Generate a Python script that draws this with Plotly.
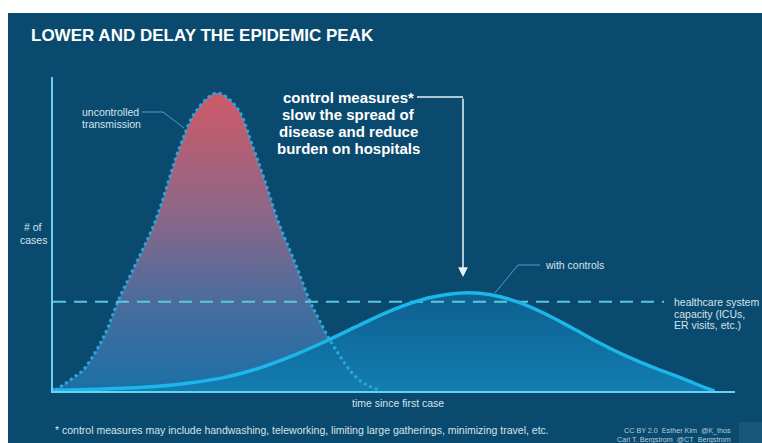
import plotly.graph_objects as go

# ---------------- data ----------------
title_text = "LOWER AND DELAY THE EPIDEMIC PEAK"

time_uncontrolled = [0.3, 1.5, 3, 4.4, 6.4, 8, 9.5, 12, 15, 18.6, 21, 24, 27, 29.3, 31, 33,
                     35.5, 37.7, 39, 40.5, 42, 43.5, 45, 46.5, 48]
cases_uncontrolled = [0.3, 2, 4.5, 7, 13.8, 21, 30, 42, 57, 82, 94, 100, 95, 82, 71, 57,
                      43, 30, 24, 17.5, 12, 7, 3.5, 1.5, 0.3]

time_controlled = [0, 5, 10, 15, 20, 25, 30, 35, 40, 45, 50, 55, 58, 61, 64, 68, 72, 76,
                   80, 84, 88, 92, 94, 96, 97]
cases_controlled = [0.3, 0.5, 0.9, 1.5, 2.7, 4.5, 7.5, 11.7, 16.7, 22.2, 27.4, 31.2, 32.5,
                    33, 32.4, 30, 26.1, 21.3, 16.3, 11.8, 7.9, 4.5, 2.6, 0.8, 0]

capacity_time = [0, 89.6]
capacity_level = [30, 30]

# ---------------- layout geometry ----------------
W, H = 762, 443
L, R, T, B = 53, 27, 77, 52
PW, PH = W - L - R, H - T - B


def X(px):  # window pixel -> paper
    return (px - L) / PW


def Y(py):  # window pixel -> paper
    return (H - B - py) / PH


BG = "#0a4a6e"
FONT = "Liberation Sans, Arial, sans-serif"

fig = go.Figure()

# uncontrolled fill
fig.add_trace(go.Scatter(
    x=time_uncontrolled, y=cases_uncontrolled, mode="lines",
    line=dict(width=0, shape="spline", smoothing=1),
    fill="tozeroy",
    fillgradient=dict(type="vertical", colorscale=[
        [0, "#1a70a7"], [0.3, "#4a6c9d"], [0.6, "#8e6687"], [1, "#cf5a67"]]),
    hoverinfo="skip", showlegend=False))

# controlled fill
fig.add_trace(go.Scatter(
    x=time_controlled, y=cases_controlled, mode="lines",
    line=dict(width=0, shape="spline", smoothing=1),
    fill="tozeroy",
    fillgradient=dict(type="vertical", colorscale=[
        [0, "#137db2"], [1, "#0d5f8e"]]),
    hoverinfo="skip", showlegend=False))

# uncontrolled dotted outline
fig.add_trace(go.Scatter(
    x=time_uncontrolled, y=cases_uncontrolled, mode="lines",
    line=dict(width=3, color="#2aa8de", dash="3px,3px", shape="spline", smoothing=1),
    hoverinfo="skip", showlegend=False))

# healthcare capacity
fig.add_trace(go.Scatter(
    x=capacity_time, y=capacity_level, mode="lines",
    line=dict(width=2, color="#5cc7e0", dash="13px,8px"),
    hoverinfo="skip", showlegend=False))

# controlled line
fig.add_trace(go.Scatter(
    x=time_controlled, y=cases_controlled, mode="lines",
    line=dict(width=3.5, color="#1bb6ea", shape="spline", smoothing=1),
    hoverinfo="skip", showlegend=False))

shapes = [
    dict(type="rect", xref="paper", yref="paper", x0=X(8), x1=X(762), y0=Y(443), y1=Y(13),
         fillcolor=BG, line=dict(width=0), layer="below"),
    dict(type="rect", xref="paper", yref="paper", x0=X(739), x1=X(762), y0=Y(443), y1=Y(422),
         fillcolor="#18577a", line=dict(width=0), layer="below"),
    # leader: uncontrolled transmission
    dict(type="path", xref="paper", yref="paper",
         path=f"M{X(142)},{Y(112)} L{X(163)},{Y(112)} L{X(184)},{Y(128)}",
         line=dict(color="#3fa6cc", width=1)),
    # leader: with controls
    dict(type="path", xref="paper", yref="paper",
         path=f"M{X(540)},{Y(265)} L{X(518)},{Y(265)} L{X(495)},{Y(293)}",
         line=dict(color="#3fa6cc", width=1)),
    # leader: control measures
    dict(type="line", xref="paper", yref="paper", x0=X(417), x1=X(463), y0=Y(97), y1=Y(97),
         line=dict(color="#e6f3f8", width=1.5)),
]


def ann(text, px, py, size, color="#d3e4ec", xanchor="left", bold=False):
    if bold:
        text = "<b>" + text + "</b>"
    return dict(text=text, x=X(px), y=Y(py), xref="paper", yref="paper",
                xanchor=xanchor, yanchor="middle", showarrow=False,
                font=dict(family=FONT, size=size, color=color))


annotations = [
    ann(title_text, 29, 35, 17, color="#ffffff", bold=True),
    ann("uncontrolled", 80, 112, 10.5),
    ann("transmission", 80, 124, 10.5),
    ann("control measures*", 348, 97, 15, color="#ffffff", xanchor="center", bold=True),
    ann("slow the spread of", 348, 114, 15, color="#ffffff", xanchor="center", bold=True),
    ann("disease and reduce", 348, 131, 15, color="#ffffff", xanchor="center", bold=True),
    ann("burden on hospitals", 348, 148, 15, color="#ffffff", xanchor="center", bold=True),
    ann("with controls", 543, 265, 10.5),
    ann("healthcare system", 672, 302, 10.5),
    ann("capacity (ICUs,", 672, 313.5, 10.5),
    ann("ER visits, etc.)", 672, 325, 10.5),
    ann("# of", 33, 227, 10.5, xanchor="center"),
    ann("cases", 33, 240, 10.5, xanchor="center"),
    ann("time since first case", 398, 403, 10.5, xanchor="center"),
    ann("* control measures may include handwashing, teleworking, limiting large gatherings, minimizing travel, etc.",
        53, 430, 10.5),
    ann("CC BY 2.0  Esther Kim  @K_thos", 733, 430, 7.2, color="#b8ccd8", xanchor="right"),
    ann("Carl T. Bergstrom  @CT_Bergstrom", 733, 439, 7.2, color="#b8ccd8", xanchor="right"),
    # arrow
    dict(text="", x=X(463), y=Y(277), xref="paper", yref="paper", showarrow=True,
         ax=0, ay=-180, axref="pixel", ayref="pixel", arrowhead=2, arrowsize=1.3,
         arrowwidth=1.5, arrowcolor="#e6f3f8"),
]

fig.update_layout(
    width=W, height=H,
    margin=dict(l=L, r=R, t=T, b=B, pad=0),
    paper_bgcolor="#ffffff",
    plot_bgcolor="rgba(0,0,0,0)",
    shapes=shapes,
    annotations=annotations,
    xaxis=dict(range=[0, 100], showgrid=False, zeroline=False, showticklabels=False,
               ticks="", showline=True, linecolor="#64d3ef", linewidth=2, fixedrange=True),
    yaxis=dict(range=[0, 105.4], showgrid=False, zeroline=False, showticklabels=False,
               ticks="", showline=True, linecolor="#64d3ef", linewidth=2, fixedrange=True),
    showlegend=False,
)

fig.write_html(
    "out.html",
    config=dict(displayModeBar=False),
    post_script="document.body.style.margin='0';document.body.style.overflow='hidden';",
)
